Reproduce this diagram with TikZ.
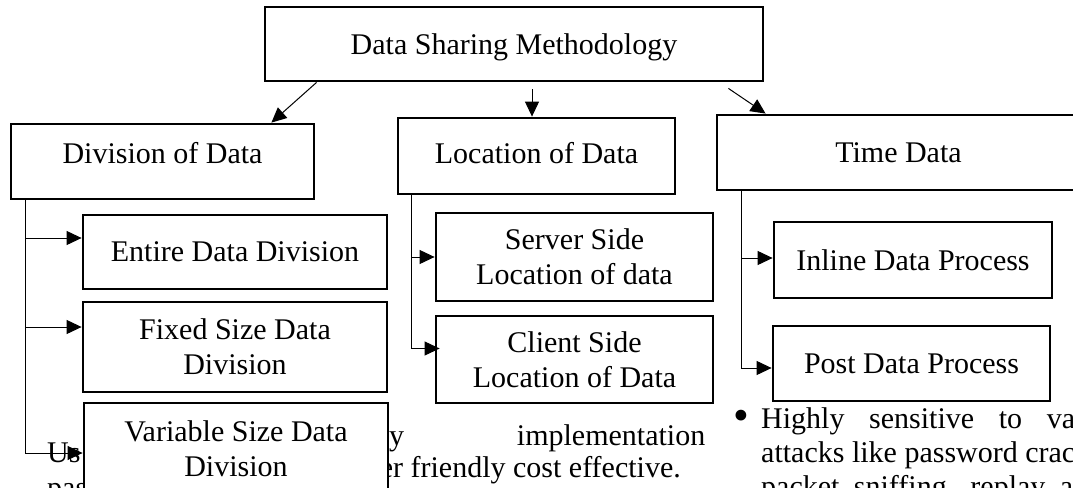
\documentclass[tikz,border=0pt]{standalone}
\usepackage{fontspec}
\setmainfont{Liberation Serif}
\usetikzlibrary{arrows.meta,calc}

\begin{document}
\begin{tikzpicture}[
  x=1pt, y=-1pt,
  font=\fontsize{30}{35}\selectfont,
  box/.style={draw, line width=2.8pt, fill=white, align=center, inner sep=0pt},
  arr/.style={line width=1pt, -{Triangle[length=15pt,width=14pt]}},
  bodytext/.style={anchor=base west, inner sep=0pt}
]
\useasboundingbox (0,0) rectangle (1073,487);
% page text behind the chart
\node[bodytext] (usetxt) at (47,462) {Us};
\node[bodytext] (impltxt) at (389,445) {\makebox[316pt][s]{y implementation}};
\node[bodytext, anchor=base east] (costtxt) at (681,477) {er friendly cost effective.};
\node[bodytext] (pastxt) at (47,497) {pas};
\node[bodytext] (bullet) at (733,430) {\scalebox{1.5}{\textbullet}};
\node[bodytext] (senstxt) at (761,428) {\makebox[314pt][s]{Highly sensitive to va}};
\node[bodytext] (attxt) at (761,462) {attacks like password crac};
\node[bodytext] (snifftxt) at (761,496) {\makebox[312pt][s]{packet sniffing, replay a}};
% boxes
\node[box, minimum width=498pt, minimum height=74pt, text height=22pt, text depth=0pt] (dsm) at (514,44) {Data Sharing Methodology};
\node[box, minimum width=303pt, minimum height=75pt, text depth=17.5pt] (div) at (162.5,161.5) {Division of Data};
\node[box, minimum width=277pt, minimum height=76pt, text depth=6.5pt] (loc) at (536.5,156) {Location of Data};
\node[box, minimum width=363pt, minimum height=75pt] (time) at (898.5,152.5) {Time Data};
\node[box, minimum width=304pt, minimum height=74pt] (entire) at (235,252) {Entire Data Division};
\node[box, minimum width=304pt, minimum height=90pt] (fixed) at (235,347) {Fixed Size Data\\Division};
\node[box, minimum width=304pt, minimum height=92pt] (var) at (236,449) {Variable Size Data\\Division};
\node[box, minimum width=277pt, minimum height=88pt] (server) at (574.5,257) {Server Side\\Location of data};
\node[box, minimum width=277pt, minimum height=87pt] (client) at (574.5,359.5) {Client Side\\Location of Data};
\node[box, minimum width=278pt, minimum height=76pt] (inline) at (913,260) {Inline Data Process};
\node[box, minimum width=277pt, minimum height=75pt] (post) at (911.5,363.5) {Post Data Process};
% connectors
\draw[arr] ($(dsm.south west)+(53,0)$) -- ($(div.north east)+(-44,0)$);
\draw[arr] ($(loc.north |- dsm.south)+(-4.5,7)$) -- ($(loc.north)+(-4.5,0)$);
\draw[arr] ($(dsm.south east)+(-36,6)$) -- ($(time.north west)+(50,0)$);
\coordinate (divtrunk) at ($(div.south west)+(16,0)$);
\draw[arr] (divtrunk) |- ([yshift=14pt]entire.west);
\draw[arr] (divtrunk) |- ([yshift=20pt]fixed.west);
\draw[arr] (divtrunk) |- ([yshift=-4pt]var.west);
\coordinate (loctrunk) at ($(loc.south west)+(15,0)$);
\draw[arr] (loctrunk) |- (server.west);
\draw[arr] (loctrunk) |- ([xshift=5pt,yshift=11pt]client.west);
\coordinate (timetrunk) at ($(time.south west)+(26,0)$);
\draw[arr] (timetrunk) |- ([yshift=2pt]inline.west);
\draw[arr] (timetrunk) |- ([yshift=-4.5pt]post.west);
\end{tikzpicture}
\end{document}
